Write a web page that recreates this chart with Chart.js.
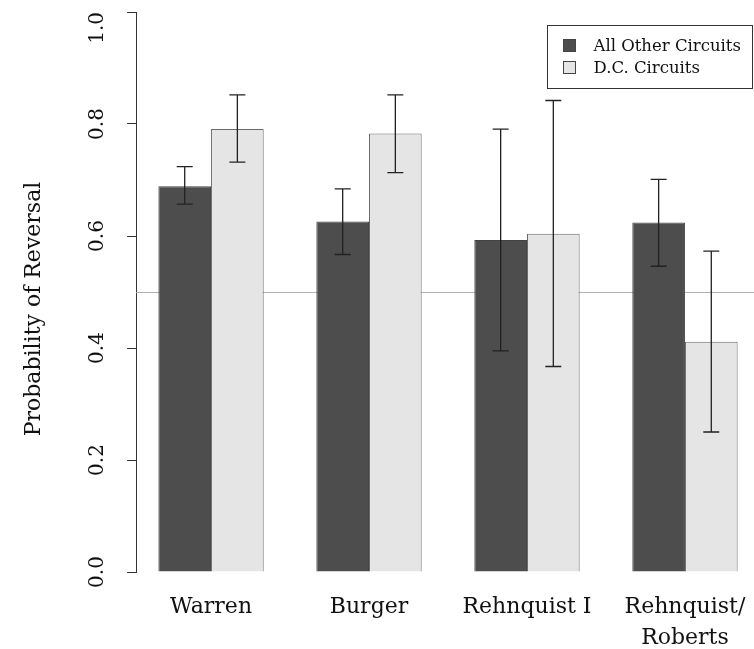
<!DOCTYPE html>
<html>
<head>
<meta charset="utf-8">
<script src="https://cdn.jsdelivr.net/npm/chart.js@4/dist/chart.umd.min.js"></script>
<style>
  body { margin: 0; background: #fff; }
  #wrap { width: 754px; height: 649px; }
</style>
</head>
<body>
<div id="wrap"><canvas id="chart"></canvas></div>
<script>
// Categories (courts) and the two series
const courts = ['Warren', 'Burger', 'Rehnquist I', ['Rehnquist/', 'Roberts']];
const seriesNames = ['All Other Circuits', 'D.C. Circuits'];

const otherCircuits = [0.689, 0.626, 0.593, 0.624];
const otherLow = [0.657, 0.567, 0.395, 0.546];
const otherHigh = [0.724, 0.684, 0.791, 0.701];

const dcCircuits = [0.791, 0.783, 0.604, 0.411];
const dcLow = [0.732, 0.713, 0.367, 0.250];
const dcHigh = [0.852, 0.852, 0.842, 0.573];

const yTicks = [0, 0.2, 0.4, 0.6, 0.8, 1.0];
const refLine = 0.5;

const colors = ['#4d4d4d', '#e5e5e5'];
const serif = "'DejaVu Serif', 'Liberation Serif', serif";

// Error bars drawn on top of the bars
const errorBars = {
    id: 'errorBars',
    afterDatasetsDraw(chart) {
        const ctx = chart.ctx;
        const y = chart.scales.y;
        const lows = [otherLow, dcLow];
        const highs = [otherHigh, dcHigh];
        ctx.save();
        ctx.strokeStyle = '#222';
        ctx.lineWidth = 1.3;
        chart.data.datasets.forEach((ds, d) => {
            chart.getDatasetMeta(d).data.forEach((bar, i) => {
                const yl = y.getPixelForValue(lows[d][i]);
                const yh = y.getPixelForValue(highs[d][i]);
                ctx.beginPath();
                ctx.moveTo(bar.x, yl);
                ctx.lineTo(bar.x, yh);
                ctx.moveTo(bar.x - 8, yl);
                ctx.lineTo(bar.x + 8, yl);
                ctx.moveTo(bar.x - 8, yh);
                ctx.lineTo(bar.x + 8, yh);
                ctx.stroke();
            });
        });
        ctx.restore();
    }
};

// Grey line at 0.5 behind the bars
const halfLine = {
    id: 'halfLine',
    beforeDatasetsDraw(chart) {
        const ctx = chart.ctx;
        const area = chart.chartArea;
        const py = Math.round(chart.scales.y.getPixelForValue(refLine)) + 0.5;
        ctx.save();
        ctx.strokeStyle = '#b0b0b0';
        ctx.lineWidth = 1;
        ctx.beginPath();
        ctx.moveTo(area.left, py);
        ctx.lineTo(area.right, py);
        ctx.stroke();
        ctx.restore();
    }
};

// Rotated y tick labels, y title and the boxed legend
const decorations = {
    id: 'decorations',
    afterDraw(chart) {
        const ctx = chart.ctx;
        const y = chart.scales.y;
        const area = chart.chartArea;
        ctx.save();
        ctx.fillStyle = '#111';

        ctx.font = '20px ' + serif;
        ctx.textAlign = 'center';
        ctx.textBaseline = 'alphabetic';
        yTicks.forEach(v => {
            const label = v.toFixed(1);
            const half = ctx.measureText(label).width / 2;
            ctx.save();
            ctx.translate(103, Math.max(y.getPixelForValue(v), half + 12));
            ctx.rotate(-Math.PI / 2);
            ctx.fillText(label, 0, 0);
            ctx.restore();
        });

        ctx.font = '22px ' + serif;
        ctx.save();
        ctx.translate(40, 309);
        ctx.rotate(-Math.PI / 2);
        ctx.fillText('Probability of Reversal', 0, 0);
        ctx.restore();

        // legend
        const bx = area.right - 206.5, by = area.top + 13.5;
        ctx.strokeStyle = '#333';
        ctx.lineWidth = 1;
        ctx.strokeRect(bx, by, 205, 63);
        ctx.font = '16.5px ' + serif;
        ctx.textAlign = 'left';
        ctx.textBaseline = 'middle';
        seriesNames.forEach((name, i) => {
            const cy = by + 20 + i * 22;
            ctx.fillStyle = colors[i];
            ctx.fillRect(bx + 16, cy - 6, 12, 12);
            ctx.strokeStyle = '#444';
            ctx.strokeRect(bx + 16, cy - 6, 12, 12);
            ctx.fillStyle = '#111';
            ctx.fillText(name, bx + 46, cy + 1);
        });
        ctx.restore();
    }
};

new Chart(document.getElementById('chart'), {
    type: 'bar',
    data: {
        datasets: [{
            label: seriesNames[0],
            data: otherCircuits.map((v, i) => ({ x: i + 1, y: v })),
            backgroundColor: colors[0],
            borderColor: '#444',
            borderWidth: 1,
            categoryPercentage: 2 / 3,
            barPercentage: 1
        }, {
            label: seriesNames[1],
            data: dcCircuits.map((v, i) => ({ x: i + 1, y: v })),
            backgroundColor: colors[1],
            borderColor: '#6a6a6a',
            borderWidth: 1,
            categoryPercentage: 2 / 3,
            barPercentage: 1
        }]
    },
    options: {
        responsive: true,
        maintainAspectRatio: false,
        animation: false,
        layout: { padding: { top: 12, left: 0, right: 0, bottom: 0 } },
        plugins: {
            legend: { display: false },
            tooltip: { enabled: false }
        },
        scales: {
            x: {
                type: 'linear',
                offset: false,
                min: 0.525,
                max: 4.437,
                grid: { display: false, drawTicks: false },
                border: { display: false },
                ticks: {
                    stepSize: 1,
                    includeBounds: false,
                    autoSkip: false,
                    maxRotation: 0,
                    padding: 20,
                    color: '#111',
                    font: { family: serif, size: 22, lineHeight: 1.4 },
                    callback: v => courts[v - 1]
                },
                afterFit: scale => {
                    scale.height = 77;
                    scale.paddingLeft = 0;
                    scale.paddingRight = 0;
                }
            },
            y: {
                min: 0,
                max: 1,
                ticks: { stepSize: 0.2, display: false },
                grid: { drawOnChartArea: false, drawTicks: true, tickLength: 9, color: '#333' },
                border: { display: true, color: '#333', width: 1 },
                afterFit: scale => { scale.width = 136; }
            }
        }
    },
    plugins: [halfLine, errorBars, decorations]
});
</script>
</body>
</html>
